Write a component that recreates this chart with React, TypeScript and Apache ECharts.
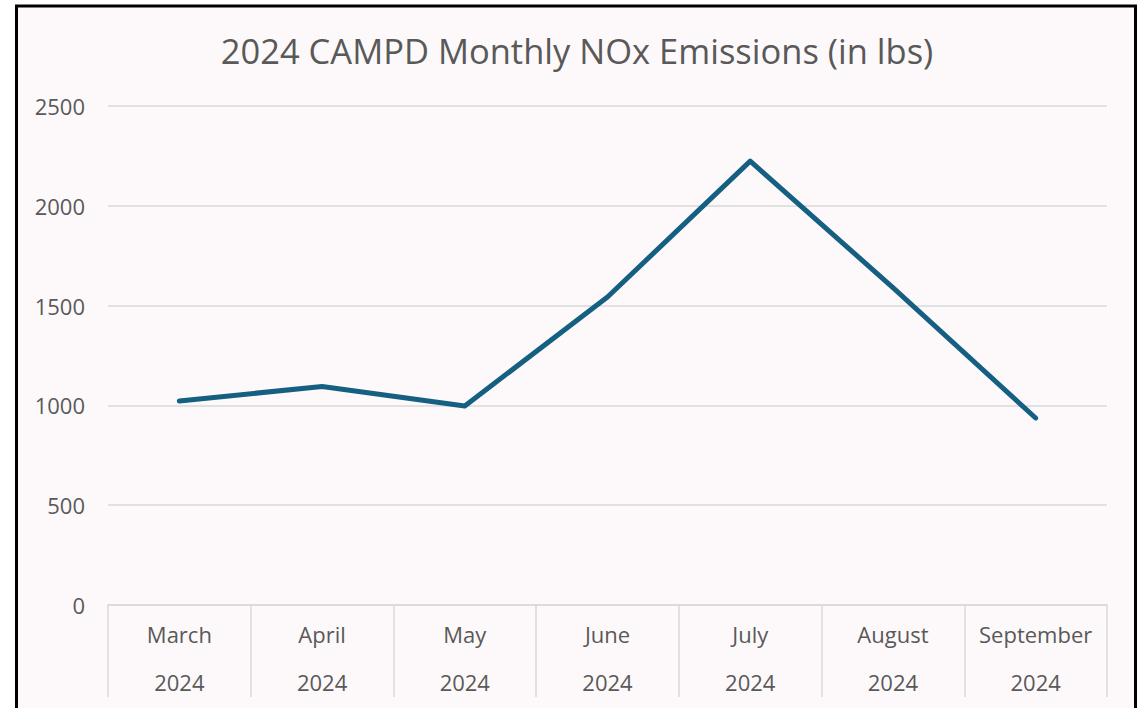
import React, { useEffect, useRef } from "react";
import * as echarts from "echarts";

const months = ["March", "April", "May", "June", "July", "August", "September"];
const years = ["2024", "2024", "2024", "2024", "2024", "2024", "2024"];
const noxLbs = [1022, 1095, 997, 1543, 2224, 1590, 937];
const yTicks = { min: 0, max: 2500, interval: 500 };
const titleText = "2024 CAMPD Monthly NOx Emissions (in lbs)";

export default function App() {
  const ref = useRef<HTMLDivElement>(null);
  useEffect(() => {
    if (!ref.current) return;
    const chart = echarts.init(ref.current, undefined, { renderer: "svg" });
    const font = "'Open Sans', 'Noto Sans', sans-serif";
    chart.setOption({
      animation: false,
      backgroundColor: "#ffffff",
      textStyle: { fontFamily: font },
      graphic: [
        {
          type: "rect",
          z: -10,
          silent: true,
          shape: { x: 16.5, y: 6, width: 1119, height: 740 },
          style: { fill: "#fdf9fa", stroke: "#000000", lineWidth: 3 },
        },
      ],
      title: {
        text: titleText,
        left: 572,
        textAlign: "center",
        top: 28,
        textStyle: { fontFamily: font, fontSize: 34.5, fontWeight: "normal", color: "#595959" },
      },
      grid: { left: 108, right: 34, top: 106, bottom: 103, containLabel: false },
      xAxis: {
        type: "category",
        data: months.map((m, i) => m + "|" + years[i]),
        boundaryGap: true,
        axisLine: { show: true, lineStyle: { color: "#d9d9d9", width: 1.5 } },
        axisTick: { show: true, interval: 0, length: 92, lineStyle: { color: "#d9d9d9", width: 1.5 } },
        axisLabel: {
          interval: 0,
          margin: 5,
          formatter: (v: string) => {
            const [m, y] = v.split("|");
            return "{m|" + m + "}\n{y|" + y + "}";
          },
          rich: {
            m: { fontSize: 22, color: "#595959", lineHeight: 48, fontFamily: font },
            y: { fontSize: 22, color: "#595959", lineHeight: 48, fontFamily: font },
          },
        },
      },
      yAxis: {
        type: "value",
        min: yTicks.min,
        max: yTicks.max,
        interval: yTicks.interval,
        axisLine: { show: false },
        axisTick: { show: false },
        axisLabel: {
          fontSize: 22,
          color: "#595959",
          margin: 23,
          fontFamily: font,
          formatter: (v: number) => String(v),
        },
        splitLine: { lineStyle: { color: "#d9d9d9", width: 1.5 } },
      },
      series: [
        {
          type: "line",
          data: noxLbs,
          symbol: "none",
          lineStyle: { color: "#156082", width: 5, cap: "round", join: "round" },
          itemStyle: { color: "#156082" },
        },
      ],
    });
    return () => chart.dispose();
  }, []);
  return (
    <div
      ref={ref}
      style={{ position: "fixed", left: 0, top: 0, width: 1141, height: 708 }}
    />
  );
}
